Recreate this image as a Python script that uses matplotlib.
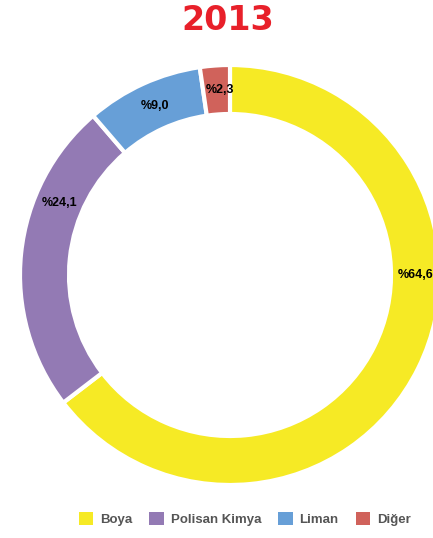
import matplotlib.pyplot as plt
from matplotlib.patches import Patch
import numpy as np

labels = ['Boya', 'Polisan Kimya', 'Liman', 'Diğer']
values = [64.6, 24.1, 9.0, 2.3]
value_texts = ['%64,6', '%24,1', '%9,0', '%2,3']
colors = ['#F6EA25', '#937AB4', '#679FD7', '#D0625B']

# label angles (deg clockwise from top), as placed in the original
label_angles = [90, 293, 336, 357]

W, H = 433, 538
fig = plt.figure(figsize=(W / 100, H / 100), dpi=100)
ax = fig.add_axes([0, 0, 1, 1])

cx, cy, r = 230, H - 275, 210
width = 49
ax.pie(values, colors=colors, startangle=90, counterclock=False,
       center=(cx, cy), radius=r, frame=True,
       wedgeprops=dict(width=width, edgecolor='white', linewidth=3))
ax.set_xlim(0, W)
ax.set_ylim(0, H)
ax.set_aspect('equal')
ax.axis('off')

rm = r - width / 2
for txt, a in zip(value_texts, label_angles):
    t = np.deg2rad(a)
    ax.text(cx + rm * np.sin(t), cy + rm * np.cos(t), txt,
            ha='center', va='center', fontsize=9, fontweight='bold',
            family='Liberation Sans', color='black')

fig.text(0.527, 1 - 20 / H, '2013', ha='center', va='center',
         fontsize=24, fontweight='bold', color='#E8202A')

handles = [Patch(facecolor=c, edgecolor='none') for c in colors]
leg = fig.legend(handles, labels, loc='center', ncol=4,
                 bbox_to_anchor=(0.565, 1 - 519 / H), frameon=False,
                 handlelength=1.1, handleheight=1.1, handletextpad=0.5,
                 columnspacing=1.3,
                 prop=dict(size=9.5, weight='bold', family='Liberation Sans'))
for t in leg.get_texts():
    t.set_color('#555555')

fig.savefig('out.png', dpi=100)
